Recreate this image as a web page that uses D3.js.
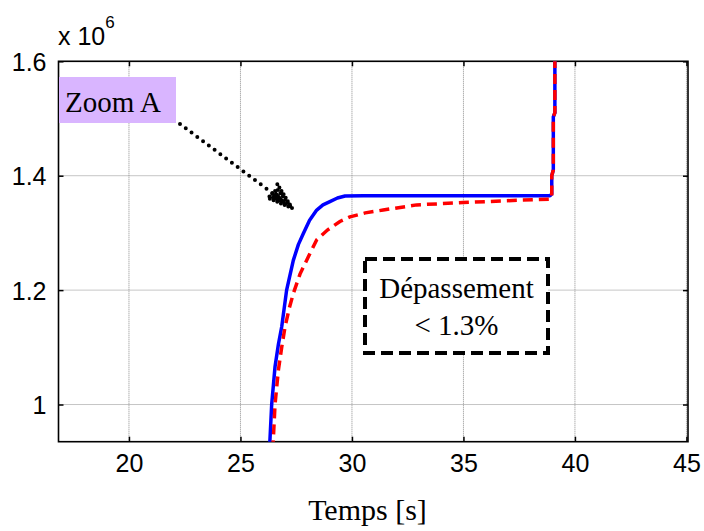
<!DOCTYPE html>
<html><head><meta charset="utf-8">
<script src="https://cdn.jsdelivr.net/npm/d3@7"></script>
<style>body{margin:0;background:#fff}svg{display:block}</style>
</head><body>
<svg id="c" width="704" height="531"></svg>
<script>
const xTicks = [20, 25, 30, 35, 40, 45];
const yTicks = [1, 1.2, 1.4, 1.6];
const xDomain = [16.84, 45.07];
const yDomain = [0.935, 1.6];
// series values (x 10^6)
const blueT = [26.30,26.40,26.55,26.70,26.85,27.07,27.37,27.60,27.82,28.10,28.42,28.70,29.01,29.35,29.69,30.50,38.88,38.96,38.96,39.03,39.03,39.10,39.10];
const blueV = [0.92,1.00,1.066,1.105,1.136,1.200,1.252,1.280,1.299,1.322,1.340,1.349,1.3546,1.361,1.3646,1.365,1.365,1.368,1.400,1.41,1.503,1.51,1.65];
const redT = [26.45,26.55,26.70,26.85,27.00,27.20,27.37,27.67,28.04,28.42,28.90,29.46,29.91,30.60,31.40,32.90,34.98,37.41,38.88,38.96,38.96,39.03,39.03,39.10,39.10];
const redV = [0.92,1.00,1.060,1.10,1.136,1.17,1.194,1.228,1.258,1.288,1.305,1.320,1.328,1.335,1.340,1.349,1.353,1.357,1.359,1.36,1.400,1.41,1.503,1.51,1.65];

const L = 58.5, R = 688, T = 61.3, B = 441.7;
const svg = d3.select('#c');
const x = d3.scaleLinear().domain(xDomain).range([L, R]);
const y = d3.scaleLinear().domain(yDomain).range([B, T]);

svg.append('defs').append('clipPath').attr('id','clip')
  .append('rect').attr('x',L).attr('y',T).attr('width',R-L).attr('height',B-T);

// grid
const grid = svg.append('g').attr('stroke','#8c8c8c').attr('stroke-width',1).attr('stroke-dasharray','1,1');
grid.selectAll('.gx').data(xTicks).join('line')
  .attr('x1',d=>x(d)).attr('x2',d=>x(d)).attr('y1',T).attr('y2',B);
grid.selectAll('.gy').data(yTicks).join('line')
  .attr('x1',L).attr('x2',R).attr('y1',d=>y(d)).attr('y2',d=>y(d));

// axes via d3 axis (inward ticks)
const fs = '25px';
const axB = svg.append('g').attr('transform',`translate(0,${B})`)
  .call(d3.axisBottom(x).tickValues(xTicks).tickSizeInner(-5).tickSizeOuter(0).tickPadding(22).tickFormat(d3.format('d')));
const axL = svg.append('g').attr('transform',`translate(${L},0)`)
  .call(d3.axisLeft(y).tickValues(yTicks).tickSizeInner(-5).tickSizeOuter(0).tickPadding(12).tickFormat(d=>d===1?'1':d3.format('.1f')(d)));
const axT = svg.append('g').attr('transform',`translate(0,${T})`)
  .call(d3.axisTop(x).tickValues(xTicks).tickSizeInner(-5).tickSizeOuter(0).tickFormat(''));
const axR = svg.append('g').attr('transform',`translate(${R},0)`)
  .call(d3.axisRight(y).tickValues(yTicks).tickSizeInner(-5).tickSizeOuter(0).tickFormat(''));
[axB,axL,axT,axR].forEach(a=>{
  a.select('.domain').remove();
  a.selectAll('line').attr('stroke','#000').attr('stroke-width',1.5);
  a.selectAll('text').attr('font-family','Arial, "Liberation Sans", sans-serif').attr('font-size',fs).attr('fill','#000');
});
axB.selectAll('text').attr('dy','0.32em');
axL.selectAll('text').attr('dy','0.36em');

svg.append('rect').attr('x',L).attr('y',T).attr('width',R-L).attr('height',B-T)
  .attr('fill','none').attr('stroke','#000').attr('stroke-width',1.6);

// curves
const line = d3.line().x(d=>x(d[0])).y(d=>y(d[1]));
const plot = svg.append('g').attr('clip-path','url(#clip)');
plot.append('path').datum(blueT.map((t,i)=>[t,blueV[i]])).attr('d',line)
  .attr('fill','none').attr('stroke','#0000ff').attr('stroke-width',3.5).attr('stroke-linejoin','round');
plot.append('path').datum(redT.map((t,i)=>[t,redV[i]])).attr('d',line)
  .attr('fill','none').attr('stroke','#ff0000').attr('stroke-width',3.5).attr('stroke-dasharray','10,6');

// exponent label
const ex = svg.append('text').attr('x',58).attr('y',45)
  .attr('font-family','Arial, "Liberation Sans", sans-serif').attr('font-size','25px').attr('fill','#000');
ex.append('tspan').text('x 10');
ex.append('tspan').attr('font-size','17px').attr('dy','-17').text('6');

// Zoom A label
svg.append('rect').attr('x',59).attr('y',77).attr('width',117).attr('height',46).attr('fill','#d9b5ff');
svg.append('text').attr('x',65).attr('y',112).attr('font-family','"Liberation Serif","Times New Roman",serif')
  .attr('font-size','29px').attr('fill','#000').text('Zoom A');

// dotted arrow
const arr = svg.append('g').attr('stroke','#000').attr('stroke-width',4).attr('stroke-linecap','round').attr('fill','none');
arr.append('line').attr('x1',180).attr('y1',124).attr('x2',291).attr('y2',207).attr('stroke-dasharray','0,7.2');
arr.append('path').attr('d','M292,208 L268,198 L277,189 Z M292,208 L276,182').attr('stroke-dasharray','0,4');
svg.append('path').attr('d','M290,207 L270,198 L276,191 Z').attr('fill','#000');

// Dépassement box
svg.append('rect').attr('x',365).attr('y',259).attr('width',183).attr('height',94)
  .attr('fill','#fff').attr('stroke','#000').attr('stroke-width',4).attr('stroke-dasharray','12,6');
const tb = svg.append('text').attr('font-family','"Liberation Serif","Times New Roman",serif')
  .attr('font-size','29px').attr('fill','#000').attr('text-anchor','middle');
tb.append('tspan').attr('x',456.5).attr('y',298).text('Dépassement');
tb.append('tspan').attr('x',456.5).attr('y',335).text('< 1.3%');

// x label
svg.append('text').attr('x',367.5).attr('y',520).attr('text-anchor','middle')
  .attr('font-family','"Liberation Serif","Times New Roman",serif').attr('font-size','30px').attr('fill','#000').text('Temps [s]');
</script>
</body></html>
